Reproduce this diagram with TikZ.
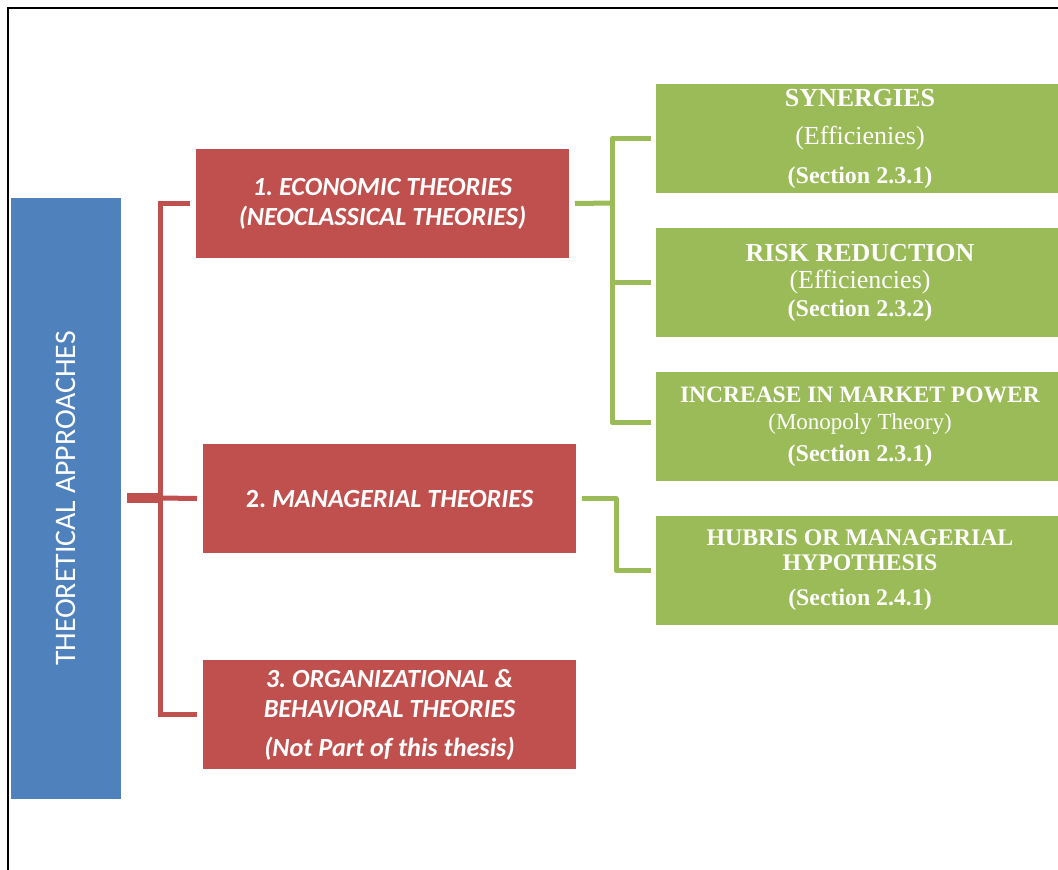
\documentclass[tikz,border=0pt]{standalone}
\usepackage{fontspec}
\setmainfont{Liberation Serif}
\newfontfamily\calfont{Carlito}
\definecolor{bluec}{HTML}{4F81BD}
\definecolor{redc}{HTML}{C0504D}
\definecolor{greenc}{HTML}{9BBB59}
\begin{document}
\frenchspacing
\begin{tikzpicture}[x=1pt,y=-1pt,
  basebox/.style={inner sep=0pt, outer sep=0pt, text=white, align=center},
  bluebox/.style={basebox, fill=bluec, minimum width=601pt, minimum height=110pt, rotate=90,
    font=\calfont\fontsize{29.8}{34}\selectfont},
  redbox/.style={basebox, fill=redc, minimum width=373pt, minimum height=109pt,
    font=\calfont\bfseries\itshape\fontsize{26.2}{30}\selectfont},
  greenbox/.style={basebox, fill=greenc, minimum width=408pt, minimum height=109pt},
  redline/.style={draw=redc, line width=5pt},
  greenline/.style={draw=greenc, line width=5pt, line join=round}]
\useasboundingbox (0,0) rectangle (1058,870);
\draw[line width=2pt] (8,871) -- (8,8) -- (1060,8);

\node[bluebox] (blue) at (66,498.5) {THEORETICAL APPROACHES};

\node[redbox] (r1) at (382.5,203.5) {1. ECONOMIC THEORIES\\(NEOCLASSICAL THEORIES)};
\node[redbox] (r2) at (389.5,498.5) {{\upshape 2.} MANAGERIAL THEORIES};
\node[redbox] (r3) at (389.5,714.5) {3. ORGANIZATIONAL \&\\BEHAVIORAL THEORIES\\[9pt](Not Part of this thesis)};

\node[greenbox, font=\fontsize{26}{38.5}\selectfont] (g1) at (860,138.5)
  {\textbf{SYNERGIES}\\(Efficienies)\\{\fontsize{24}{38.5}\selectfont\bfseries (Section 2.3.1)}};
\node[greenbox, font=\fontsize{26}{27.5}\selectfont] (g2) at (860,282.5)
  {\textbf{RISK REDUCTION}\\(Efficiencies)\\{\fontsize{24}{27.5}\selectfont\bfseries (Section 2.3.2)}};
\node[greenbox, font=\fontsize{23.5}{27}\selectfont] (g3) at (860,426.5)
  {\textbf{INCREASE IN MARKET POWER}\\{\fontsize{23}{27}\selectfont (Monopoly Theory)}\\[5pt]{\fontsize{24}{27}\selectfont\bfseries (Section 2.3.1)}};
\node[greenbox, font=\fontsize{23.8}{25}\selectfont\bfseries] (g4) at (860,570.5)
  {HUBRIS OR MANAGERIAL\\HYPOTHESIS\\[10pt](Section 2.4.1)};

% red connectors
\coordinate (rbus) at (160,498);
\draw[redline, line width=10pt] ([xshift=6pt]blue.south |- rbus) -- ([xshift=2.5pt]rbus);
\draw[redline] ([xshift=-6pt]r1.west) -| (rbus) |- ([xshift=-6pt]r3.west);
\draw[redline] (rbus) -- ([xshift=-6pt]r2.west);

% green connectors
\draw[greenline] ([xshift=6pt]r1.east) -- (612,203);
\draw[greenline] ([xshift=-5pt]g1.west) -| (612,203) |- ([xshift=-5pt,yshift=4pt]g3.west);
\draw[greenline] (612,282.5) -- ([xshift=-5pt]g2.west);
\draw[greenline] ([xshift=6pt]r2.east) -| (616,535) |- ([xshift=-5pt]g4.west);
\end{tikzpicture}
\end{document}
